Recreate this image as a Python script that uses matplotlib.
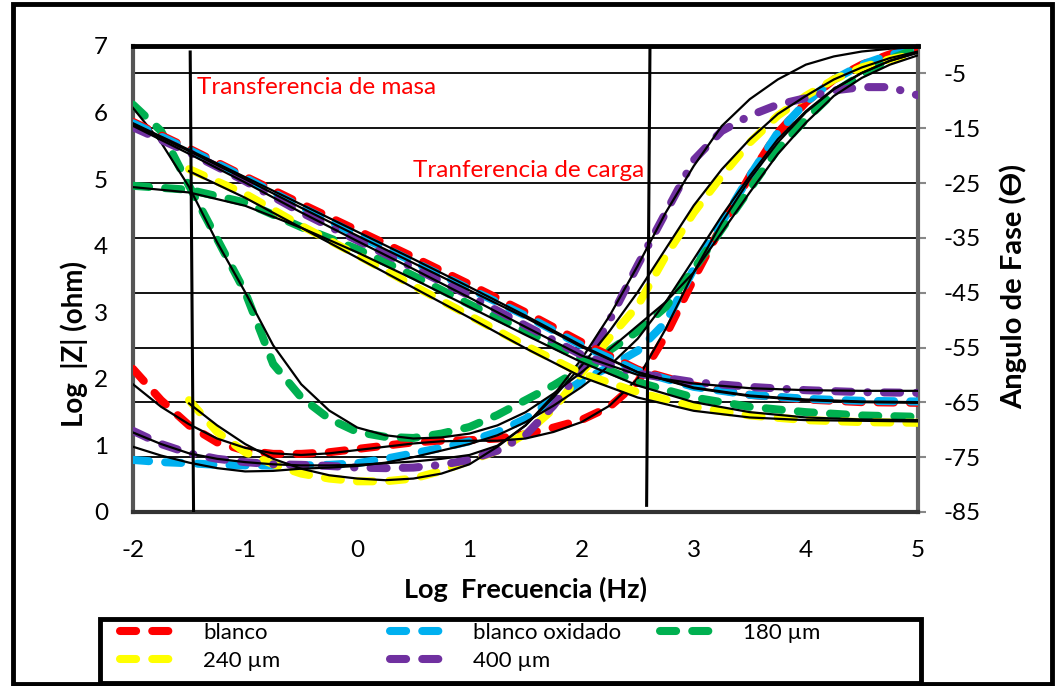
import numpy as np
import matplotlib
matplotlib.use("Agg")
import matplotlib.pyplot as plt
from matplotlib.patches import Rectangle

plt.rcParams['font.family'] = ['Lato', 'DejaVu Sans']
plt.rcParams['axes.unicode_minus'] = False

# log frequency grids
f_z = [-2, -1.5, -1, -0.5, 0, 0.5, 1, 1.5, 2, 2.5, 3, 3.5, 4, 4.5, 5]
f_z_y = f_z[1:]
f_p = [-2, -1.75, -1.5, -1.25, -1, -0.75, -0.5, -0.25, 0, 0.25, 0.5, 0.75, 1, 1.25,
       1.5, 1.75, 2, 2.25, 2.5, 2.75, 3, 3.25, 3.5, 3.75, 4, 4.25, 4.5, 4.75, 5]
f_p_y = f_p[2:]

# log|Z| (ohm) - measured
z_blanco = [5.86, 5.46, 5.04, 4.63, 4.23, 3.83, 3.42, 3.0, 2.55, 2.14, 1.9, 1.76, 1.69, 1.65, 1.64]
z_oxid = [5.84, 5.44, 5.02, 4.58, 4.16, 3.76, 3.35, 2.95, 2.5, 2.12, 1.88, 1.76, 1.7, 1.67, 1.66]
z_180 = [4.9, 4.84, 4.65, 4.28, 3.95, 3.55, 3.12, 2.72, 2.3, 1.95, 1.72, 1.58, 1.5, 1.45, 1.43]
z_240 = [5.15, 4.78, 4.3, 3.86, 3.4, 2.95, 2.5, 2.08, 1.8, 1.58, 1.45, 1.38, 1.35, 1.34]
z_400 = [5.78, 5.4, 4.97, 4.5, 4.08, 3.67, 3.25, 2.8, 2.36, 2.08, 1.95, 1.88, 1.83, 1.8, 1.79]

# log|Z| - fitted
zf_blanco = [5.84, 5.44, 5.03, 4.62, 4.21, 3.8, 3.38, 2.95, 2.5, 2.1, 1.86, 1.74, 1.68, 1.65, 1.64]
zf_oxid = [5.82, 5.42, 5.0, 4.57, 4.15, 3.74, 3.33, 2.92, 2.48, 2.1, 1.87, 1.75, 1.69, 1.66, 1.65]
zf_180 = [4.88, 4.8, 4.6, 4.27, 3.9, 3.5, 3.08, 2.66, 2.25, 1.9, 1.65, 1.5, 1.42, 1.39, 1.38]
zf_240 = [5.12, 4.72, 4.27, 3.82, 3.37, 2.92, 2.46, 2.03, 1.72, 1.52, 1.42, 1.38, 1.37, 1.36]
zf_400 = [5.8, 5.38, 4.95, 4.5, 4.07, 3.65, 3.22, 2.78, 2.35, 2.06, 1.93, 1.86, 1.83, 1.82, 1.82]

# phase angle (deg) - measured
p_blanco = [-58.9, -64.6, -69.2, -72.3, -73.8, -74.4, -74.4, -74.1, -73.5, -72.9, -72.3, -72.0, -71.9, -71.6,
            -70.8, -69.6, -68.2, -65.8, -61.3, -52.8, -42.5, -32.8, -23.7, -15.8, -10.3, -6.1, -3.4, -1.5, -0.2]
p_oxid = [-75.5, -75.9, -76.1, -76.4, -76.5, -76.5, -76.5, -76.4, -76.1, -75.3, -74.3, -73.3, -72.1, -70.4,
          -68.0, -64.4, -61.1, -58.5, -55.6, -50.4, -40.7, -32.2, -23.7, -15.8, -10.3, -6.1, -3.4, -1.6, -0.5]
p_180 = [-10.7, -15.5, -25.5, -35.2, -44.9, -58.0, -64.1, -68.0, -70.4, -71.3, -71.5, -70.7, -69.5, -67.3,
         -64.6, -61.9, -58.8, -55.5, -52.0, -47.6, -40.7, -33.4, -26.1, -18.8, -13.4, -8.5, -5.2, -2.4, -0.4]
p_240 = [-64.6, -70.4, -74.1, -76.3, -78.0, -78.9, -79.4, -79.4, -78.9, -77.5, -75.7, -73.8,
         -70.7, -66.2, -59.7, -53.2, -47.4, -38.3, -30.4, -23.7, -17.6, -12.7, -9.1, -6.1, -3.9, -2.4, -1.5]
p_400 = [-70.2, -72.6, -74.3, -75.3, -75.9, -76.3, -76.4, -76.6, -76.9, -77.0, -76.9, -76.4, -75.5, -73.8,
         -71.0, -65.6, -58.9, -50.0, -40.0, -30.4, -20.8, -15.5, -12.7, -10.7, -9.5, -8.1, -7.5, -7.5, -9.0]

# phase angle (deg) - fitted
pf_blanco = [-61.7, -65.8, -69.0, -71.6, -73.3, -74.3, -74.6, -74.3, -73.7, -73.1, -72.5, -72.1, -72.0, -72.0,
             -71.6, -70.4, -68.6, -65.6, -60.7, -51.6, -41.3, -32.2, -24.3, -17.6, -12.1, -7.9, -4.9, -2.7, -1.2]
pf_oxid = [-73.1, -74.7, -76.0, -77.0, -77.6, -77.5, -77.1, -76.9, -76.6, -76.0, -75.0, -73.8, -72.6, -71.0,
           -68.6, -65.6, -62.2, -58.3, -53.4, -46.7, -38.9, -31.0, -23.7, -17.0, -11.9, -7.8, -4.9, -2.7, -1.2]
pf_180 = [-11.3, -17.6, -25.7, -35.8, -44.9, -54.6, -61.7, -66.5, -69.6, -71.0, -71.6, -71.4, -70.7, -69.2,
          -66.8, -63.4, -59.5, -55.3, -51.0, -46.7, -41.3, -34.0, -26.7, -19.7, -14.0, -9.1, -5.8, -3.4, -1.7]
pf_240 = [-65.2, -69.2, -72.6, -75.3, -77.1, -78.3, -78.9, -79.2, -78.9, -78.0, -76.3, -73.1,
          -69.2, -64.1, -58.3, -52.0, -44.9, -37.0, -29.1, -22.5, -17.0, -12.4, -9.1, -6.1, -3.9, -2.2, -1.0]
pf_400 = [-70.5, -72.6, -74.3, -75.3, -75.9, -76.3, -76.5, -76.5, -76.4, -76.1, -75.8, -75.3, -74.6, -72.9,
          -69.2, -63.7, -57.1, -49.2, -40.1, -30.4, -21.9, -14.6, -9.7, -6.1, -3.4, -1.9, -1.0, -0.5, -0.2]

names = ['blanco', 'blanco oxidado', '180 µm', '240 µm', '400 µm']
colors = ['#FF0000', '#00B0F0', '#00B050', '#FFFF00', '#7030A0']

fig = plt.figure(figsize=(10.59, 6.86), dpi=100)
ax = fig.add_axes([133/1059, 1-512/686, 785/1059, 466/686])
ax2 = ax.twinx()
ax.set_zorder(ax2.get_zorder() + 1)
ax.patch.set_visible(False)

dash = (2.0, 2.0)
dash400 = (2.0, 2.0, 2.0, 2.0, 0.05, 2.0)
lw_d = 5.8

series_z = [(f_z, z_blanco, zf_blanco), (f_z, z_oxid, zf_oxid), (f_z, z_180, zf_180),
            (f_z_y, z_240, zf_240), (f_z, z_400, zf_400)]
series_p = [(f_p, p_blanco, pf_blanco), (f_p, p_oxid, pf_oxid), (f_p, p_180, pf_180),
            (f_p_y, p_240, pf_240), (f_p, p_400, pf_400)]

handles = []
for i in range(5):
    d = dash400 if i == 4 else dash
    fx, y, yf = series_z[i]
    h, = ax.plot(fx, y, color=colors[i], lw=lw_d, dashes=d, dash_capstyle='round', label=names[i], zorder=3)
    handles.append(h)
    fx, y, yf = series_p[i]
    ax2.plot(fx, y, color=colors[i], lw=lw_d, dashes=d, dash_capstyle='round', zorder=3)
for i in range(5):
    fx, y, yf = series_z[i]
    ax.plot(fx, yf, color='black', lw=1.6, zorder=4)
    fx, y, yf = series_p[i]
    ax2.plot(fx, yf, color='black', lw=1.6, zorder=4)

# marker lines
ax.plot([-1.49, -1.46], [6.91, 0], color='black', lw=2.2, zorder=5)
ax.plot([2.61, 2.58], [7.0, 0.1], color='black', lw=2.2, zorder=5)

ax.text(-1.43, 6.38, 'Transferencia de masa', color='red', fontsize=17.5, va='center', ha='left', zorder=6)
ax.text(0.5, 5.13, 'Tranferencia de carga', color='red', fontsize=17.5, va='center', ha='left', zorder=6)

ax.set_xlim(-2, 5)
ax.set_ylim(0, 7)
ax2.set_ylim(-85, 0)
ax.set_xticks(range(-2, 6))
ax.set_yticks(range(0, 8))
ax2.set_yticks(range(-85, 0, 10))

ax2.grid(axis='y', color='black', lw=1.3)
ax2.set_axisbelow(True)

ax.tick_params(axis='both', length=0, labelsize=17.5, colors='black')
ax.tick_params(axis='x', pad=20)
ax.tick_params(axis='y', pad=18)
ax2.tick_params(axis='y', length=6, width=1.5, color='#888888', labelsize=17.5, pad=12)

for s in ['left', 'bottom', 'right']:
    ax.spines[s].set_visible(False)
ax.spines['top'].set_linewidth(3.5)
ax.spines['top'].set_color('black')
ax2.spines['top'].set_visible(False)
ax2.spines['left'].set_color('#555555')
ax2.spines['left'].set_linewidth(3)
ax2.spines['bottom'].set_color('#333333')
ax2.spines['bottom'].set_linewidth(3)
ax2.spines['right'].set_color('#666666')
ax2.spines['right'].set_linewidth(3)

ax.set_xlabel('Log  Frecuencia (Hz)', fontsize=19.5, fontweight='bold')
ax.xaxis.set_label_coords(0.5, -0.139)
ax.set_ylabel('Log  |Z| (ohm)', fontsize=20, fontweight='bold')
ax.yaxis.set_label_coords(-0.057, 0.36)
ax2.set_ylabel('Angulo de Fase (Ɵ)', fontsize=21, fontweight='bold')
ax2.yaxis.set_label_coords(1.104, 0.485)

# legend: three fixed-width columns inside a box
cols = [[0, 3], [1, 4], [2]]
col_x = [120, 390, 660]
for c, idx in enumerate(cols):
    fig.legend([handles[k] for k in idx], [names[k] for k in idx], loc='upper left',
               bbox_to_anchor=(col_x[c]/1059, 1-623/686), frameon=False, fontsize=16,
               handlelength=2.75, handletextpad=1.0, borderpad=0, borderaxespad=0,
               labelspacing=0.35)
fig.patches.append(Rectangle((100/1059, 1-683/686), 821/1059, 64/686, transform=fig.transFigure,
                             fill=False, edgecolor='black', lw=3.5))

fig.patches.append(Rectangle((13/1059, 2/686), 1039/1059, 680/686, transform=fig.transFigure,
                             fill=False, edgecolor='black', lw=3.5))

fig.savefig('out.png', dpi=100)
